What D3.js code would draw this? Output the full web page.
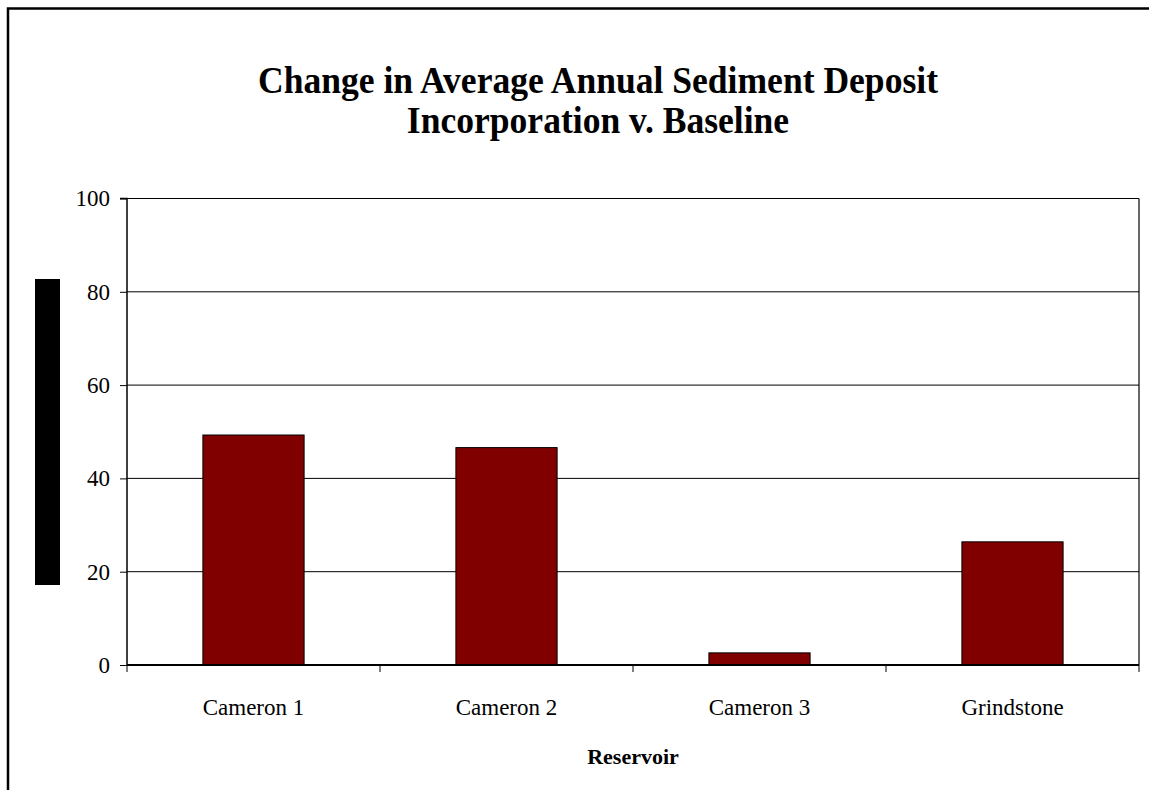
<!DOCTYPE html>
<html>
<head>
<meta charset="utf-8">
<script src="https://cdn.jsdelivr.net/npm/d3@7/dist/d3.min.js"></script>
<style>
  html, body { margin: 0; padding: 0; background: #fff; }
  svg { display: block; font-family: "Liberation Serif", "Times New Roman", serif; }
</style>
</head>
<body>
<script>
// Reservoirs and their change in average annual sediment deposit incorporation
const reservoirs = ["Cameron 1", "Cameron 2", "Cameron 3", "Grindstone"];
const changeValues = [49.3, 46.6, 2.6, 26.4];
const yTicks = [0, 20, 40, 60, 80, 100];
const titleLines = ["Change in Average Annual Sediment Deposit", "Incorporation v. Baseline"];
const xAxisTitle = "Reservoir";

const W = 1149, H = 790;
const plot = { left: 127, top: 198.5, right: 1139, bottom: 665 };

const svg = d3.select("body").append("svg")
  .attr("width", W).attr("height", H);

// outer chart frame (only left and top edges fall inside the view)
svg.append("path")
  .attr("d", `M8,${H} L8,8.5 L${W},8.5`)
  .attr("fill", "none").attr("stroke", "#000").attr("stroke-width", 2.5);

// title: bold serif, slightly condensed so the first line spans ~680px
const title = svg.append("g").selectAll("text").data(titleLines).join("text")
  .attr("x", 598).attr("y", (d, i) => 93 + i * 40)
  .attr("text-anchor", "middle")
  .attr("font-size", 37).attr("font-weight", "bold")
  .text(d => d);
const natural = title.nodes().map(n => n.getComputedTextLength());
const squeeze = 680 / natural[0];
title.attr("textLength", (d, i) => natural[i] * squeeze)
  .attr("lengthAdjust", "spacingAndGlyphs");

const x = d3.scaleBand().domain(reservoirs)
  .range([plot.left, plot.right]).paddingInner(0.6).paddingOuter(0.3);
const xBand = d3.scaleBand().domain(reservoirs).range([plot.left, plot.right]);
const y = d3.scaleLinear().domain([0, 100]).range([plot.bottom, plot.top]);

// gridlines
svg.append("g").selectAll("line").data(yTicks.filter(t => t > 0)).join("line")
  .attr("x1", plot.left).attr("x2", plot.right)
  .attr("y1", d => y(d)).attr("y2", d => y(d))
  .attr("stroke", "#000").attr("stroke-width", 1);

// right border of plot area
svg.append("line")
  .attr("x1", plot.right).attr("x2", plot.right)
  .attr("y1", plot.top).attr("y2", plot.bottom)
  .attr("stroke", "#000").attr("stroke-width", 1.2);

// bars
svg.append("g").selectAll("rect").data(reservoirs).join("rect")
  .attr("x", d => x(d)).attr("width", x.bandwidth())
  .attr("y", (d, i) => y(changeValues[i]))
  .attr("height", (d, i) => y(0) - y(changeValues[i]))
  .attr("fill", "#800000").attr("stroke", "#000").attr("stroke-width", 1);

// y axis
const yAxis = svg.append("g").attr("transform", `translate(${plot.left},0)`)
  .call(d3.axisLeft(y).tickValues(yTicks).tickSize(7).tickPadding(10).tickFormat(d3.format("d")));
yAxis.select(".domain").attr("stroke", "#000").attr("stroke-width", 1.5).attr("d", `M-7,${plot.top}H0V${plot.bottom}`);
yAxis.selectAll(".tick line").attr("stroke", "#000");
yAxis.selectAll("text").attr("font-size", 23).attr("font-family", "Liberation Serif, serif").attr("fill", "#000");

// x axis: ticks at category boundaries
const xAxisG = svg.append("g").attr("transform", `translate(0,${plot.bottom})`);
xAxisG.append("line").attr("x1", plot.left).attr("x2", plot.right)
  .attr("stroke", "#000").attr("stroke-width", 2);
const boundaries = reservoirs.map(d => xBand(d)).concat([plot.right]);
xAxisG.selectAll("line.tk").data(boundaries).join("line").attr("class", "tk")
  .attr("x1", d => d).attr("x2", d => d).attr("y1", 0).attr("y2", 7)
  .attr("stroke", "#000").attr("stroke-width", 1);
xAxisG.selectAll("text").data(reservoirs).join("text")
  .attr("x", d => xBand(d) + xBand.bandwidth() / 2).attr("y", 50)
  .attr("text-anchor", "middle").attr("font-size", 23).text(d => d);

// x axis title
svg.append("text").attr("x", 633).attr("y", 764)
  .attr("text-anchor", "middle").attr("font-size", 22).attr("font-weight", "bold")
  .text(xAxisTitle);

// y axis title block
svg.append("rect").attr("x", 35).attr("y", 279).attr("width", 25).attr("height", 306)
  .attr("fill", "#000");
</script>
</body>
</html>
